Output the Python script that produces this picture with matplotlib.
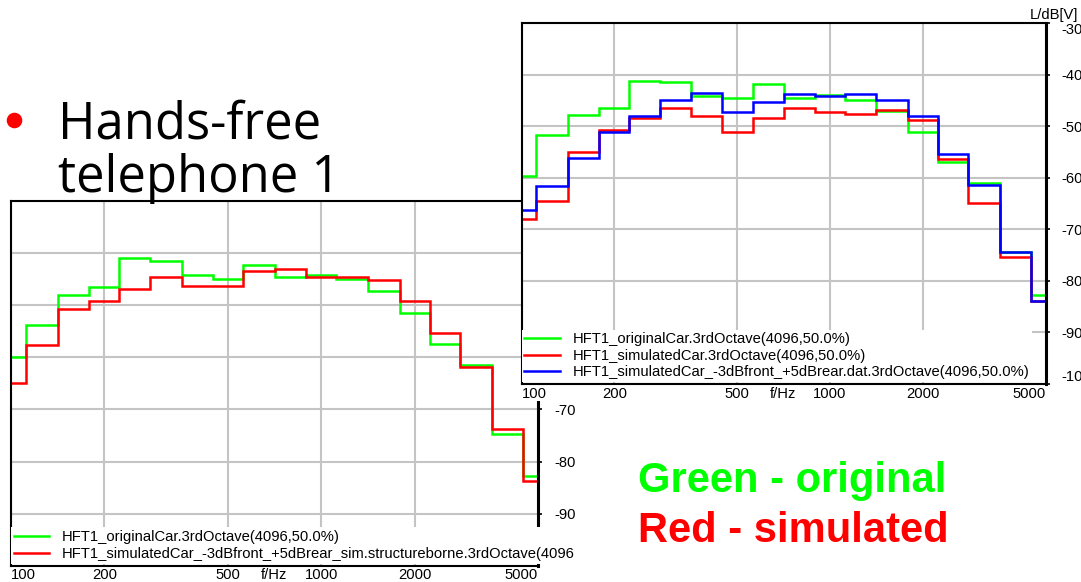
import numpy as np
import matplotlib
matplotlib.use('Agg')
import matplotlib.pyplot as plt
from matplotlib.lines import Line2D
from matplotlib.patches import Rectangle

plt.rcParams['font.family'] = ['Liberation Sans', 'DejaVu Sans']

W, H = 1081, 582

# third-octave band centres (Hz)
BANDS = [100, 125, 160, 200, 250, 315, 400, 500, 630, 800, 1000, 1250, 1600,
         2000, 2500, 3150, 4000, 5000]

# right window: three curves, L/dB[V]
ORIG_R = [-59.6, -51.7, -47.8, -46.5, -41.2, -41.5, -44.2, -44.6, -41.9, -44.6,
          -44.0, -44.9, -47.0, -51.2, -56.9, -61.1, -74.5, -82.8]
SIM_R = [-68.0, -64.6, -55.0, -50.8, -48.4, -46.5, -48.1, -51.2, -48.5, -46.5,
         -47.2, -47.6, -46.9, -48.8, -56.3, -65.0, -75.4, -84.0]
SIM2_R = [-66.2, -61.7, -56.2, -51.2, -48.1, -44.9, -43.5, -47.3, -45.4, -43.8,
          -44.2, -43.8, -44.9, -48.1, -55.4, -61.5, -74.4, -83.9]

# left window: two curves
ORIG_L = [-60.0, -53.8, -48.1, -46.5, -41.1, -41.5, -44.3, -45.0, -42.4, -44.6,
          -44.2, -45.0, -47.3, -51.6, -57.4, -61.5, -74.8, -82.7]
SIM_L = [-64.9, -57.6, -50.8, -49.2, -46.9, -44.6, -46.4, -46.4, -43.5, -43.1,
         -44.6, -44.7, -45.3, -49.2, -55.4, -61.9, -73.8, -83.8]

LABELS_R = ['HFT1_originalCar.3rdOctave(4096,50.0%)',
            'HFT1_simulatedCar.3rdOctave(4096,50.0%)',
            'HFT1_simulatedCar_-3dBfront_+5dBrear.dat.3rdOctave(4096,50.0%)']
LABELS_L = ['HFT1_originalCar.3rdOctave(4096,50.0%)',
            'HFT1_simulatedCar_-3dBfront_+5dBrear_sim.structureborne.3rdOctave(4096']

XTICKS = [100, 200, 500, 1000, 2000, 5000]
XTICKLABELS = ['100', '200', '500', '1000', '2000', '5000']
YTICKS_R = [-30, -40, -50, -60, -70, -80, -90, -100]
YTICKLABELS_R = ['-30', '-40', '-50', '-60', '-70', '-80', '-90', '-100']
# the left window's upper labels sit behind the right window
YTICKS_L = [-30, -40, -50, -60, -70, -80, -90]
YTICKLABELS_L = ['', '', '', '', '-70', '-80', '-90']

GREEN, RED, BLUE = '#00ff00', '#ff0000', '#0000ff'
GRID = '#c4c4c4'
FS = 10.6


def band_edges(c):
    c = np.asarray(c, float)
    inner = np.sqrt(c[:-1] * c[1:])
    return np.concatenate([[c[0] / 1.12], inner, [c[-1] * 1.12]])


def px_axes(fig, x0, y0, x1, y1):
    return fig.add_axes([x0 / W, 1 - y1 / H, (x1 - x0) / W, (y1 - y0) / H])


def style_window(ax, yticks, ylabels, xpad):
    ax.set_xscale('log')
    ax.set_xlim(100, 5000)
    ax.set_ylim(-100, -30)
    ax.set_axisbelow(True)
    ax.grid(True, which='major', color=GRID, lw=1.5)
    ax.set_xticks(XTICKS)
    ax.set_xticklabels(XTICKLABELS)
    ax.set_xticks([707], minor=True)
    ax.set_xticklabels(['f/Hz'], minor=True)
    ax.tick_params(axis='x', which='both', length=0, pad=xpad, labelsize=FS)
    labs = ax.get_xticklabels()
    labs[0].set_ha('left')
    labs[-1].set_ha('right')
    ax.yaxis.tick_right()
    ax.set_yticks(yticks)
    ax.set_yticklabels(ylabels)
    ax.tick_params(axis='y', length=3, width=1.2, pad=8.5, labelsize=FS)
    ax.yaxis.set_minor_locator(matplotlib.ticker.NullLocator())
    for s in ['top', 'left', 'bottom']:
        ax.spines[s].set_linewidth(1.5)
    ax.spines['right'].set_linewidth(2.2)


def window_legend(ax, anchor_y, spacing):
    leg = ax.legend(loc='lower left', bbox_to_anchor=(0, anchor_y), borderaxespad=0,
                    frameon=True, fancybox=False, framealpha=1, fontsize=FS,
                    handlelength=2.4, handletextpad=0.85, labelspacing=spacing,
                    borderpad=0.2)
    leg.get_frame().set_facecolor('white')
    leg.get_frame().set_edgecolor('none')
    return leg


fig = plt.figure(figsize=(W / 100, H / 100), dpi=100, facecolor='white')
edges = band_edges(BANDS)

# left window (behind)
ax1 = px_axes(fig, 11, 200.5, 538, 566)
ax1.set_zorder(1)
style_window(ax1, YTICKS_L, YTICKLABELS_L, 1.5)
ax1.stairs(ORIG_L, edges, baseline=None, color=GREEN, lw=1.8, label=LABELS_L[0])
ax1.stairs(SIM_L, edges, baseline=None, color=RED, lw=1.8, label=LABELS_L[1])
window_legend(ax1, 0.006, 0.2)

# white strip under the right window (its x labels)
fig.add_artist(Rectangle((519.5 / W, 1 - 401 / H), 1 - 519.5 / W, 18 / H,
                         transform=fig.transFigure, facecolor='white',
                         edgecolor='none', zorder=2))

# right window (front)
ax2 = px_axes(fig, 521.5, 23, 1045.5, 384)
ax2.set_zorder(3)
ax2.set_facecolor('white')
style_window(ax2, YTICKS_R, YTICKLABELS_R, 2)
ylabs = ax2.get_yticklabels()
ylabs[0].set_va('top')
ylabs[-1].set_va('bottom')
ax2.stairs(ORIG_R, edges, baseline=None, color=GREEN, lw=1.8, label=LABELS_R[0])
ax2.stairs(SIM_R, edges, baseline=None, color=RED, lw=1.8, label=LABELS_R[1])
ax2.stairs(SIM2_R, edges, baseline=None, color=BLUE, lw=1.8, label=LABELS_R[2])
window_legend(ax2, 0.006, 0.15)
ax2.text((1030 - 521.5) / 524, 1 + 8 / 361, 'L/dB[V]', transform=ax2.transAxes,
         ha='left', va='center', fontsize=FS)

# slide text
fig.add_artist(Line2D([13.7 / W], [1 - 120 / H], marker='o', markersize=10.2,
                      color='red', transform=fig.transFigure, zorder=4))
fig.text(58 / W, 1 - 138.3 / H, 'Hands-free', family='Open Sans', fontsize=36.5,
         ha='left', va='baseline', zorder=4)
fig.text(58 / W, 1 - 191.7 / H, 'telephone 1', family='Open Sans', fontsize=36.5,
         ha='left', va='baseline', zorder=4)
fig.text(638 / W, 1 - 491.7 / H, 'Green - original', fontsize=30, fontweight='bold',
         color=GREEN, ha='left', va='baseline', zorder=4)
fig.text(638 / W, 1 - 541.7 / H, 'Red - simulated', fontsize=30, fontweight='bold',
         color=RED, ha='left', va='baseline', zorder=4)

fig.savefig('out.png', dpi=100, facecolor='white')
